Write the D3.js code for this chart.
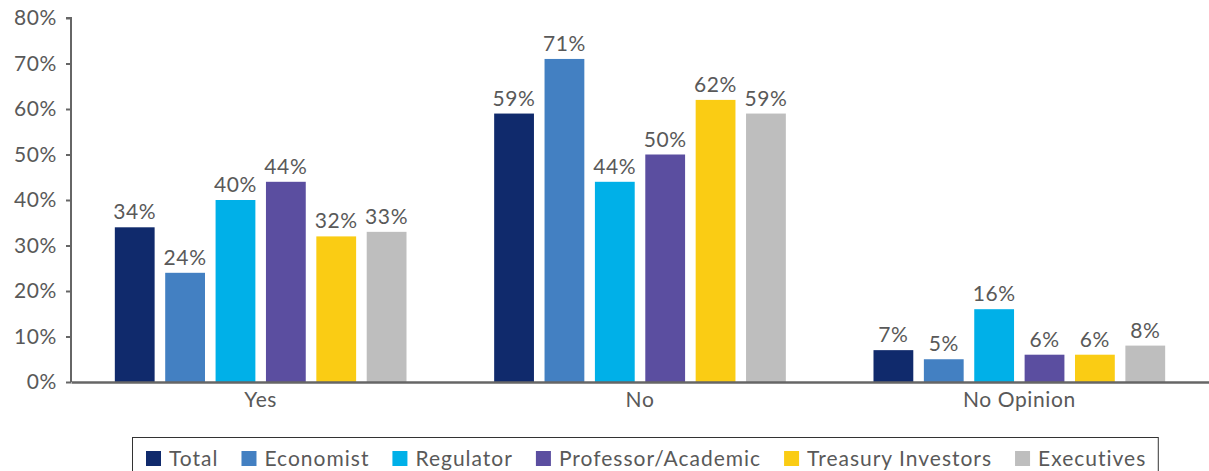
<!DOCTYPE html>
<html>
<head>
<meta charset="utf-8">
<script src="https://cdn.jsdelivr.net/npm/d3@7"></script>
<style>
  html, body { margin: 0; padding: 0; background: #fff; }
  svg { display: block; font-family: Lato, "Noto Sans", sans-serif; }
</style>
</head>
<body>
<svg id="chart" width="1209" height="471"></svg>
<script>
// Survey responses by respondent group
const categories = ["Yes", "No", "No Opinion"];
const groups = ["Total", "Economist", "Regulator", "Professor/Academic", "Treasury Investors", "Executives"];
const colors = ["#102a6c", "#4380c2", "#00b0e8", "#5b4ea0", "#facc14", "#bebebe"];
const total = [34, 59, 7];
const economist = [24, 71, 5];
const regulator = [40, 44, 16];
const professor = [44, 50, 6];
const treasury = [32, 62, 6];
const executives = [33, 59, 8];
const yTicks = [0, 10, 20, 30, 40, 50, 60, 70, 80];

const seriesValues = [total, economist, regulator, professor, treasury, executives];

const svg = d3.select("#chart");
const left = 71;
const textColor = "#595959";
const axisColor = "#666666";
const fontFamily = "Lato, 'Noto Sans', sans-serif";
const fs = 21;
const ls = 0.6;

const x0 = d3.scaleBand().domain(categories).range([left, 1209]).paddingInner(0).paddingOuter(0);
const x1 = d3.scaleBand().domain(groups).range([0, x0.bandwidth()]).paddingInner(0.21).paddingOuter(0.87);
const y = d3.scaleLinear().domain([0, 80]).range([382, 18]);

// bars and value labels
const catG = svg.selectAll("g.cat").data(categories).join("g")
  .attr("class", "cat")
  .attr("transform", d => `translate(${x0(d)},0)`);

catG.each(function(cat, ci) {
  const g = d3.select(this);
  const rows = groups.map((grp, gi) => ({ grp, gi, v: seriesValues[gi][ci] }));
  g.selectAll("rect").data(rows).join("rect")
    .attr("x", d => x1(d.grp))
    .attr("width", x1.bandwidth())
    .attr("y", d => y(d.v))
    .attr("height", d => y(0) - y(d.v))
    .attr("fill", d => colors[d.gi]);
  g.selectAll("text.val").data(rows).join("text")
    .attr("class", "val")
    .attr("x", d => x1(d.grp) + x1.bandwidth() / 2)
    .attr("y", d => y(d.v) - 8)
    .attr("text-anchor", "middle")
    .attr("font-size", fs)
    .attr("letter-spacing", ls)
    .attr("fill", textColor)
    .text(d => d.v + "%");
});

// y axis
const yAxis = d3.axisLeft(y).tickValues(yTicks).tickSize(5).tickPadding(9).tickFormat(d => d + "%");
const yg = svg.append("g").attr("transform", `translate(${left},0)`).call(yAxis);
yg.select(".domain").attr("stroke", axisColor).attr("stroke-width", 2).attr("d", `M-5,${y(80)}H0V${y(0)}`);
yg.selectAll(".tick line").attr("stroke", axisColor).attr("stroke-width", 2);
yg.selectAll(".tick text").attr("fill", textColor).attr("font-size", fs)
  .attr("letter-spacing", ls).attr("font-family", fontFamily);

// x axis
const xAxis = d3.axisBottom(x0).tickSize(0).tickPadding(10);
const xg = svg.append("g").attr("transform", `translate(0,${y(0)})`).call(xAxis);
xg.select(".domain").attr("stroke", axisColor).attr("stroke-width", 2.5);
xg.selectAll(".tick text").attr("fill", textColor).attr("font-size", fs)
  .attr("letter-spacing", ls).attr("font-family", fontFamily);

// legend
const legend = svg.append("g");
const legendBox = legend.append("rect")
  .attr("x", 132.5).attr("y", 437.5).attr("height", 50)
  .attr("fill", "#fff").attr("stroke", "#333").attr("stroke-width", 1);
let lx = 146;
groups.forEach((grp, i) => {
  legend.append("rect").attr("x", lx).attr("y", 451).attr("width", 15).attr("height", 15).attr("fill", colors[i]);
  const t = legend.append("text").attr("x", lx + 23).attr("y", 466)
    .attr("font-size", fs).attr("letter-spacing", 1.0).attr("fill", textColor).text(grp);
  const w = t.node().getComputedTextLength();
  lx += 23 + w + 23;
});
legendBox.attr("width", lx - 23 + 12 - 132.5);
</script>
</body>
</html>
